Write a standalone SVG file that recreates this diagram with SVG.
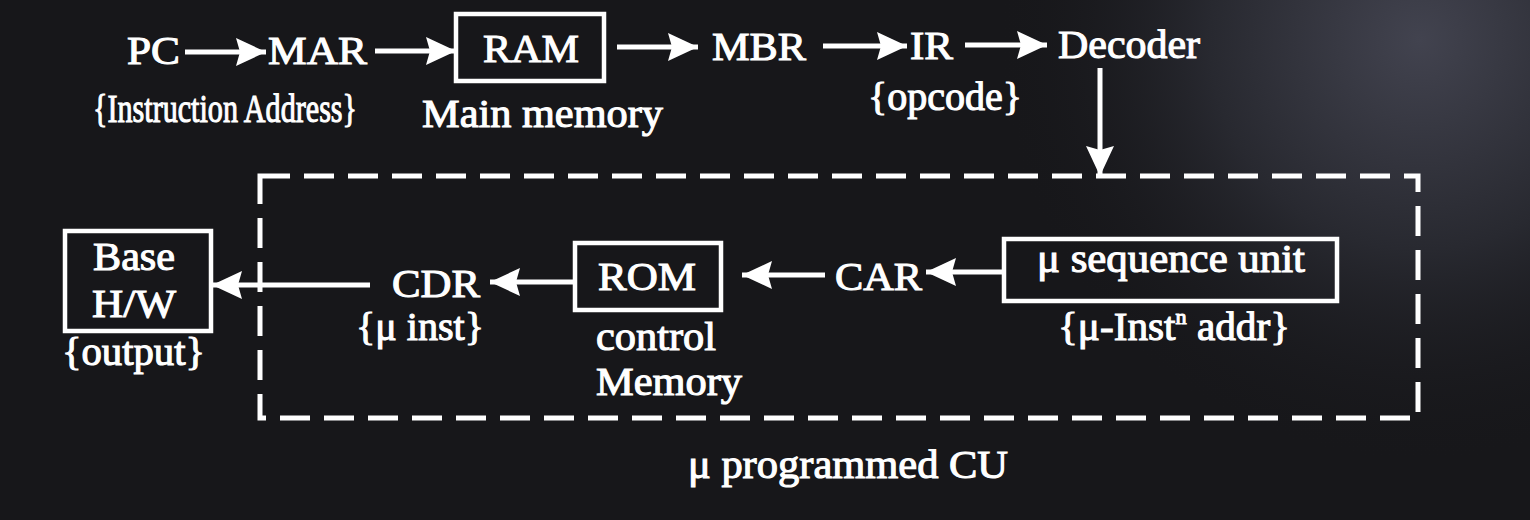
<svg xmlns="http://www.w3.org/2000/svg" width="1530" height="520" viewBox="0 0 1530 520">
<defs>
<radialGradient id="glow" cx="1420" cy="40" r="420" gradientUnits="userSpaceOnUse">
<stop offset="0" stop-color="#42434f"/>
<stop offset="0.5" stop-color="#282930"/>
<stop offset="1" stop-color="#18181c" stop-opacity="0"/>
</radialGradient>
<marker id="ah" markerUnits="userSpaceOnUse" markerWidth="32" markerHeight="30" refX="30" refY="14" orient="auto">
<path d="M0,0 L30,14 L0,28 L4,14 Z" fill="#ffffff"/>
</marker>
<style>
.t{font-family:"Liberation Serif","Times New Roman",serif;fill:#ffffff;font-size:41px;stroke:#ffffff;stroke-width:1.1}
.box{fill:none;stroke:#ffffff;stroke-width:4.5}
.ln{fill:none;stroke:#ffffff;stroke-width:5}
</style>
</defs>
<rect width="1530" height="520" fill="#17171a"/>
<rect width="1530" height="520" fill="url(#glow)"/>

<g id="connectors">
<path class="ln" d="M185,52 H266" marker-end="url(#ah)"/>
<path class="ln" d="M375,51 H456" marker-end="url(#ah)"/>
<path class="ln" d="M617,47 H698" marker-end="url(#ah)"/>
<path class="ln" d="M823,46 H907" marker-end="url(#ah)"/>
<path class="ln" d="M965,45 H1047" marker-end="url(#ah)"/>
<path class="ln" d="M1100,68 V176" marker-end="url(#ah)"/>
<path class="ln" d="M1003,272 H926" marker-end="url(#ah)"/>
<path class="ln" d="M825,275 H742" marker-end="url(#ah)"/>
<path class="ln" d="M574,282 H490" marker-end="url(#ah)"/>
<path class="ln" d="M370,285 H212" marker-end="url(#ah)"/>
</g>

<g id="mpcu">
<rect x="260" y="176" width="1158" height="242" fill="none" stroke="#ffffff" stroke-width="5" stroke-dasharray="30 14"/>
<text class="t" x="688" y="478" textLength="320" lengthAdjust="spacingAndGlyphs">μ programmed CU</text>
</g>

<g id="pc"><text class="t" x="127" y="64" textLength="53" lengthAdjust="spacingAndGlyphs">PC</text></g>
<g id="mar"><text class="t" x="268" y="64" textLength="99" lengthAdjust="spacingAndGlyphs">MAR</text>
<text class="t" transform="translate(93,122) scale(0.735,1)" x="0" y="0" font-size="35">{Instruction Address}</text></g>
<g id="ram"><rect class="box" x="456" y="14" width="148" height="67"/>
<text class="t" x="483" y="62" textLength="96" lengthAdjust="spacingAndGlyphs">RAM</text>
<text class="t" x="422" y="127" textLength="241" lengthAdjust="spacingAndGlyphs">Main memory</text></g>
<g id="mbr"><text class="t" x="712" y="60" textLength="94" lengthAdjust="spacingAndGlyphs">MBR</text></g>
<g id="ir"><text class="t" x="910" y="59" textLength="43" lengthAdjust="spacingAndGlyphs">IR</text>
<text class="t" x="868" y="110" textLength="154" lengthAdjust="spacingAndGlyphs">{opcode}</text></g>
<g id="decoder"><text class="t" x="1058" y="58" textLength="142" lengthAdjust="spacingAndGlyphs">Decoder</text></g>

<g id="seq"><rect class="box" x="1004" y="239" width="333" height="62"/>
<text class="t" x="1037" y="272" textLength="268" lengthAdjust="spacingAndGlyphs">μ sequence unit</text>
<text class="t" x="1058" y="340" textLength="232" lengthAdjust="spacingAndGlyphs">{μ-Inst<tspan font-size="22" dy="-16">n</tspan><tspan dy="16"> addr}</tspan></text></g>
<g id="car"><text class="t" x="835" y="290" textLength="87" lengthAdjust="spacingAndGlyphs">CAR</text></g>
<g id="rom"><rect class="box" x="575" y="243" width="146" height="67"/>
<text class="t" x="598" y="290" textLength="98" lengthAdjust="spacingAndGlyphs">ROM</text>
<text class="t" x="596" y="350" textLength="120" lengthAdjust="spacingAndGlyphs">control</text>
<text class="t" x="596" y="395" textLength="146" lengthAdjust="spacingAndGlyphs">Memory</text></g>
<g id="cdr"><text class="t" x="392" y="297" textLength="88" lengthAdjust="spacingAndGlyphs">CDR</text>
<text class="t" x="356" y="340" textLength="128" lengthAdjust="spacingAndGlyphs">{μ inst}</text></g>
<g id="base"><rect class="box" x="65" y="231" width="146" height="100"/>
<text class="t" x="93" y="270" textLength="82" lengthAdjust="spacingAndGlyphs">Base</text>
<text class="t" x="92" y="317" textLength="84" lengthAdjust="spacingAndGlyphs">H/W</text>
<text class="t" x="62" y="365" textLength="143" lengthAdjust="spacingAndGlyphs">{output}</text></g>
</svg>
